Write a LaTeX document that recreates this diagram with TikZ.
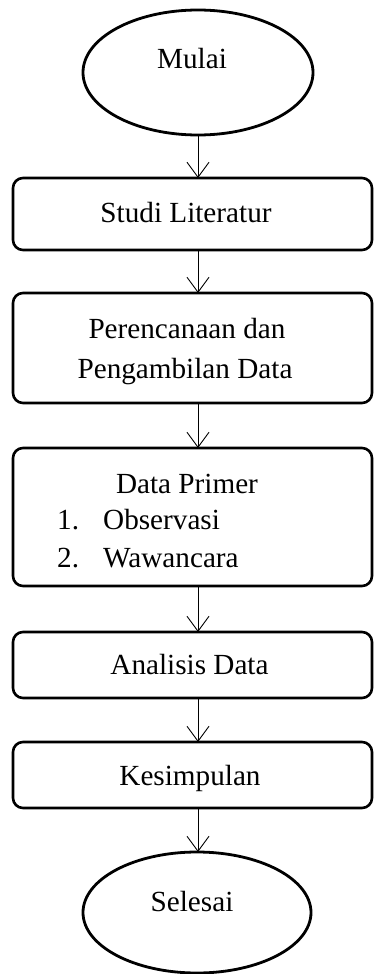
\documentclass[tikz,border=0pt]{standalone}
\usepackage{fontspec}
\setmainfont{Liberation Serif}
\usetikzlibrary{shapes.geometric,arrows.meta}

\begin{document}
\begin{tikzpicture}[x=1pt,y=-1pt]
\useasboundingbox (0,0) rectangle (374,974);
\tikzset{
  stepbox/.style={draw, line width=2.6pt, rounded corners=10pt,
    minimum width=359pt, inner sep=0pt, outer sep=0pt},
  terminal/.style={draw, ellipse, line width=2.8pt, inner sep=0pt, outer sep=0pt},
  flow/.style={-{Straight Barb[length=15pt,width=22pt]}, line width=0.9pt},
  lbl/.style={font=\fontsize{29.2}{35}\selectfont, inner sep=0pt, anchor=base},
  lblw/.style={lbl, anchor=base west}
}

% terminals and process boxes
\node[terminal, minimum width=230pt, minimum height=125pt] (start) at (198,72.5) {};
\node[stepbox, minimum height=72pt]  (studi) at (192.5,214) {};
\node[stepbox, minimum height=110pt] (plan)  at (192.5,348) {};
\node[stepbox, minimum height=138pt] (data)  at (192.5,517) {};
\node[stepbox, minimum height=66pt]  (anal)  at (192.5,665) {};
\node[stepbox, minimum height=66pt]  (conc)  at (192.5,775) {};
\node[terminal, minimum width=228pt, minimum height=121pt] (stop) at (197,912.5) {};

% labels
\node[lbl] (tStart) at (192,68) {Mulai};
\node[lbl] (tStudi) at (186,222) {Studi Literatur};
\node[lbl] (tPlanA) at (187,338) {Perencanaan dan};
\node[lbl] (tPlanB) at (185,378) {Pengambilan Data};
\node[lbl] (tData)  at (187,493) {Data Primer};
\node[lblw] (tNumA) at (57,529) {1.};
\node[lblw] (tObs)  at (103,529) {Observasi};
\node[lblw] (tNumB) at (57,567) {2.};
\node[lblw] (tWaw)  at (103,567) {Wawancara};
\node[lbl] (tAnal)  at (189.5,674) {Analisis Data};
\node[lbl] (tConc)  at (190,785) {Kesimpulan};
\node[lbl] (tStop)  at (192,911) {Selesai};

% connectors
\draw[flow] (start.south) -- (start.south |- studi.north);
\draw[flow] (studi.south -| start) -- (plan.north -| start);
\draw[flow] (plan.south -| start) -- (data.north -| start);
\draw[flow] (data.south -| start) -- (anal.north -| start);
\draw[flow] (anal.south -| start) -- (conc.north -| start);
\draw[flow] (conc.south -| start) -- (stop.north -| start);
\end{tikzpicture}
\end{document}
